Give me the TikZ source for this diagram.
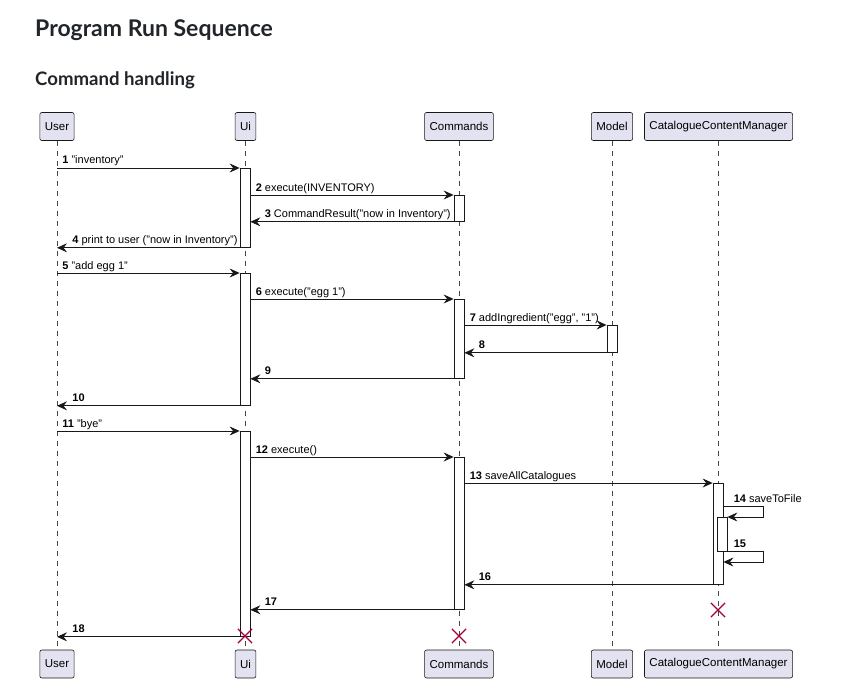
\documentclass[tikz,border=0pt]{standalone}
\usepackage{fontspec}
\setmainfont{Liberation Sans}
\newfontfamily\titlefont{Lato}
\usetikzlibrary{arrows.meta, positioning, shapes.misc}
\definecolor{partfill}{HTML}{E2E2F0}
\definecolor{umlline}{HTML}{181818}
\definecolor{destroyred}{HTML}{A80036}
\definecolor{titlegray}{HTML}{212529}
\tikzset{
    part/.style={rectangle, draw=umlline, fill=partfill, rounded corners=2pt, line width=0.6pt,
        minimum height=28pt, inner xsep=5pt, font=\fontsize{11.5}{13}\selectfont},
    lifeline/.style={draw=umlline!80, line width=0.5pt, dash pattern=on 5pt off 5pt},
    actbar/.style={rectangle, draw=umlline, fill=white, line width=0.8pt, minimum width=10pt, anchor=north, inner sep=0pt},
    msg/.style={draw=umlline, line width=0.8pt, -{Stealth[length=10pt, width=9pt, inset=3.5pt]}},
    lbl/.style={anchor=base west, inner sep=0pt, yshift=4pt, font=\fontsize{11}{13}\selectfont},
    destroy/.style={cross out, draw=destroyred, line width=1.2pt, minimum size=13pt, inner sep=0pt}
}
\begin{document}
\begin{tikzpicture}[x=1pt, y=-1pt]
    \useasboundingbox (0,0) rectangle (849,690);

    % titles
    \node (title) [anchor=base west, inner sep=0pt, text=titlegray, font=\titlefont\bfseries\fontsize{23}{27}\selectfont] at (35,37) {Program Run Sequence};
    \node (subtitle) [anchor=base west, inner sep=0pt, text=titlegray, font=\titlefont\bfseries\fontsize{18.6}{22}\selectfont] at (35,86) {Command handling};

    % participants
    \node (user)  [part] at (57,126.5)  {User};
    \node (ui)    [part] at (245.5,126.5) {Ui};
    \node (cmd)   [part] at (459,126.5) {Commands};
    \node (model) [part] at (612,126.5) {Model};
    \node (ccm)   [part] at (718.5,126.5) {CatalogueContentManager};
    \node (userB)  [part] at (57,664)  {User};
    \node (uiB)    [part] at (245.5,664) {Ui};
    \node (cmdB)   [part] at (459,664) {Commands};
    \node (modelB) [part] at (612,664) {Model};
    \node (ccmB)   [part] at (718.5,664) {CatalogueContentManager};

    \foreach \p in {user, ui, cmd, model, ccm}
        \draw [lifeline] (\p.south) -- (\p B.north);

    % activations
    \node (ui1)    [actbar, minimum height=79pt]  at (245,168) {};
    \node (cmd1)   [actbar, minimum height=26pt]  at (459,195) {};
    \node (ui2)    [actbar, minimum height=132pt] at (245,273) {};
    \node (cmd2)   [actbar, minimum height=79pt]  at (459,299) {};
    \node (model1) [actbar, minimum height=27pt]  at (612,325) {};
    \node (ui3)    [actbar, minimum height=205pt] at (245,431) {};
    \node (cmd3)   [actbar, minimum height=152pt] at (459,457) {};
    \node (ccm1)   [actbar, minimum height=101pt] at (718,483) {};
    \node (ccm2)   [actbar, minimum height=34pt]  at (722,517) {};

    % messages
    \draw [msg] (user |- ui1.north) -- (ui1.north west) node[lbl, pos=0, xshift=5pt] {\textbf{1} "inventory"};
    \draw [msg] (ui1.east |- cmd1.north) -- (cmd1.north west) node[lbl, pos=0, xshift=5pt] {\textbf{2} execute(INVENTORY)};
    \draw [msg] (cmd1.south west) -- (ui1.east |- cmd1.south) node[lbl, pos=1, xshift=14pt] {\textbf{3} CommandResult("now in Inventory")};
    \draw [msg] (ui1.south west) -- (user |- ui1.south) node[lbl, pos=1, xshift=15pt] {\textbf{4} print to user ("now in Inventory")};

    \draw [msg] (user |- ui2.north) -- (ui2.north west) node[lbl, pos=0, xshift=5pt] {\textbf{5} "add egg 1"};
    \draw [msg] (ui2.east |- cmd2.north) -- (cmd2.north west) node[lbl, pos=0, xshift=5pt] {\textbf{6} execute("egg 1")};
    \draw [msg] (cmd2.east |- model1.north) -- (model1.north west) node[lbl, pos=0, xshift=5pt] {\textbf{7} addIngredient("egg", "1")};
    \draw [msg] (model1.south west) -- (cmd2.east |- model1.south) node[lbl, pos=1, xshift=14pt] {\textbf{8}};
    \draw [msg] (cmd2.south west) -- (ui2.east |- cmd2.south) node[lbl, pos=1, xshift=14pt] {\textbf{9}};
    \draw [msg] (ui2.south west) -- (user |- ui2.south) node[lbl, pos=1, xshift=15pt] {\textbf{10}};

    \draw [msg] (user |- ui3.north) -- (ui3.north west) node[lbl, pos=0, xshift=5pt] {\textbf{11} "bye"};
    \draw [msg] (ui3.east |- cmd3.north) -- (cmd3.north west) node[lbl, pos=0, xshift=5pt] {\textbf{12} execute()};
    \draw [msg] (cmd3.east |- ccm1.north) -- (ccm1.north west) node[lbl, pos=0, xshift=5pt] {\textbf{13} saveAllCatalogues};
    \draw [msg] (ccm1.east |- 0,506) node[lbl, xshift=10pt] {\textbf{14} saveToFile} -- ++(40,0) |- (ccm2.north east);
    \draw [msg] (ccm2.south east) node[lbl, xshift=6pt] {\textbf{15}} -- ++(36,0) |- (ccm1.east |- 0,562);
    \draw [msg] (ccm1.south west) -- (cmd3.east |- ccm1.south) node[lbl, pos=1, xshift=14pt] {\textbf{16}};
    \draw [msg] (cmd3.south west) -- (ui3.east |- cmd3.south) node[lbl, pos=1, xshift=14pt] {\textbf{17}};
    \draw [msg] (ui3.south west) -- (user |- ui3.south) node[lbl, pos=1, xshift=15pt] {\textbf{18}};

    % destroyed
    \node (ccmX) [destroy] at (718,610) {};
    \node (uiX)  [destroy] at (245,636) {};
    \node (cmdX) [destroy] at (459,636) {};
\end{tikzpicture}
\end{document}
